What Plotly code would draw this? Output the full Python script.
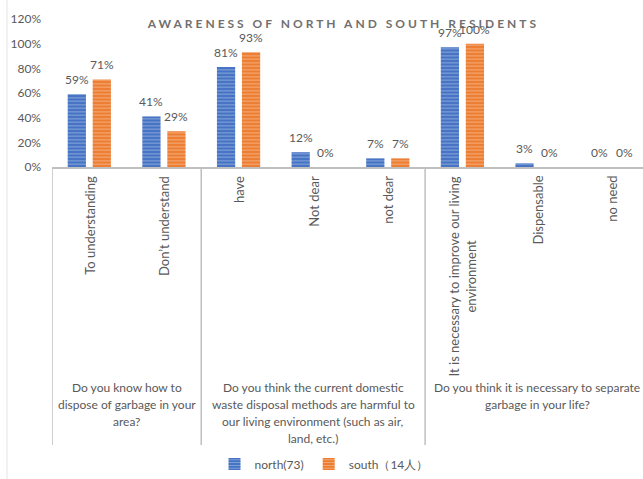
import plotly.graph_objects as go

# Survey answers (inner category level)
categories = [
    "To understanding",
    "Don’t understand",
    "have",
    "Not dear",
    "not dear",
    "It is necessary to improve our living<br>environment",
    "Dispensable",
    "no need",
]

# Share of respondents (%)
north = [59, 41, 81, 12, 7, 97, 3, 0]
south = [71, 29, 93, 0, 7, 100, 0, 0]

# Survey questions (outer category level) and the answers each one spans
question_lines = [
    ["Do you know how to", "dispose of garbage in your", "area?"],
    ["Do you think the current domestic", "waste disposal methods are harmful to",
     "our living environment (such as air,", "land, etc.)"],
    ["Do you think it is necessary to separate", "garbage in your life?"],
]
question_spans = [(0, 1), (2, 4), (5, 7)]

y_ticks = [0, 20, 40, 60, 80, 100, 120]
y_tick_text = [f"{v}%" for v in y_ticks]

FONT = "Lato"
TXT = "#595959"
BLUE = "#4472C4"
ORANGE = "#ED7D31"
AXIS_GREY = "#BFBFBF"

W, H = 643, 479
M_L, M_R, M_T, M_B = 52, 0, 19, 312
PLOT_H = H - M_T - M_B
PLOT_W = W - M_L - M_R
AXIS_Y = M_T + PLOT_H

# Horizontal offset (px) of each series' bar centre from its category centre
SERIES_SHIFT = 12.5


def py(px):
    """Pixel row -> paper y."""
    return (AXIS_Y - px) / PLOT_H


def px_x(px):
    """Pixel column -> paper x."""
    return (px - M_L) / PLOT_W


fig = go.Figure()
annotations = []

series = [("north(73)", north, BLUE, -SERIES_SHIFT),
          ("south（14人）", south, ORANGE, SERIES_SHIFT)]

for name, vals, col, shift in series:
    fig.add_trace(go.Bar(
        name=name,
        x=categories,
        y=vals,
        marker=dict(
            color=col,
            line=dict(width=0),
            pattern=dict(shape="-", fgcolor="rgba(255,255,255,0.75)",
                         fillmode="overlay", size=3.5, solidity=0.3),
        ),
    ))
    # Value labels sitting above each bar
    for c, v in zip(categories, vals):
        annotations.append(dict(
            x=c, xref="x", y=v, yref="y",
            xshift=shift, yshift=5,
            text=f"{v}%", showarrow=False,
            xanchor="center", yanchor="bottom",
            font=dict(family=FONT, size=12, color=TXT),
        ))

# Rotated answer labels under the axis
for c in categories:
    annotations.append(dict(
        x=c, xref="x", y=0, yref="paper", yshift=-7,
        text=c, textangle=-90, showarrow=False,
        xanchor="center", yanchor="top", align="center",
        font=dict(family=FONT, size=13, color=TXT),
    ))

# Question labels, one line each
for lines, (a, b) in zip(question_lines, question_spans):
    xc = (a + b) / 2
    for i, line in enumerate(lines):
        annotations.append(dict(
            x=xc, xref="x", y=py(388 + 16.8 * i), yref="paper",
            text=line, showarrow=False,
            xanchor="center", yanchor="middle",
            font=dict(family=FONT, size=12, color=TXT),
        ))

shapes = []
# Group dividers below the category axis
for xd in [-0.5, 1.5, 4.5]:
    shapes.append(dict(
        type="line", xref="x", yref="paper",
        x0=xd, x1=xd, y0=0, y1=py(445),
        line=dict(color=AXIS_GREY, width=1.5),
    ))
# Faint chart-area border on the left
shapes.append(dict(
    type="line", xref="paper", yref="paper",
    x0=px_x(7), x1=px_x(7), y0=py(0), y1=py(H),
    line=dict(color="#E4E4E4", width=1),
))

fig.update_layout(
    width=W, height=H,
    margin=dict(l=M_L, r=M_R, t=M_T, b=M_B),
    paper_bgcolor="white", plot_bgcolor="white",
    barmode="group", bargap=0.33, bargroupgap=0.27,
    title=dict(
        text="<b>AWARENESS OF NORTH AND SOUTH RESIDENTS</b>",
        x=0.493, xref="paper", xanchor="center",
        y=1 - 24 / H, yref="container", yanchor="middle",
        font=dict(family=FONT, size=12, color="#707070"),
    ),
    xaxis=dict(
        type="category", range=[-0.5, 7.42],
        showticklabels=False, showgrid=False, zeroline=False,
        showline=True, linecolor=AXIS_GREY, linewidth=1.5, ticks="",
    ),
    yaxis=dict(
        range=[0, 120], tickmode="array",
        tickvals=y_ticks, ticktext=y_tick_text,
        showgrid=False, zeroline=False, showline=False, ticks="",
        ticklabelstandoff=10,
        tickfont=dict(family=FONT, size=12, color=TXT),
    ),
    legend=dict(
        orientation="h", x=px_x(324), xref="paper", xanchor="center",
        y=1 - 464 / H, yref="container", yanchor="middle",
        font=dict(family=FONT, size=12, color=TXT),
        itemwidth=30, tracegroupgap=0,
    ),
    annotations=annotations,
    shapes=shapes,
)

fig.write_html(
    "out.html",
    post_script="document.querySelectorAll('.gtitle').forEach(function(t){t.style.letterSpacing='3px';});",
)
